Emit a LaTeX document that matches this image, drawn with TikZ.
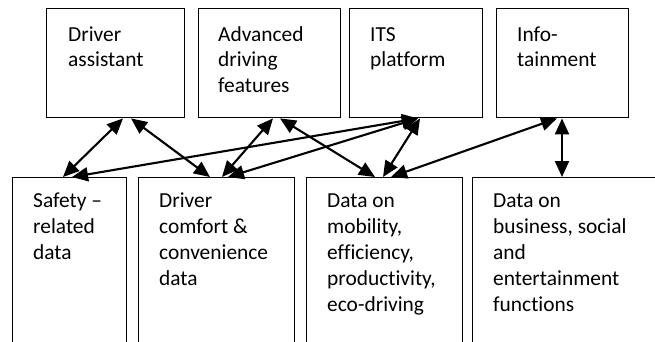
\documentclass[tikz,border=0pt]{standalone}
\usepackage{fontspec}
\setmainfont{Carlito}[Ligatures={NoCommon}]
\usetikzlibrary{arrows.meta}
\tikzset{
  box/.style={draw=black, line width=1.4pt, rectangle, inner sep=0pt, anchor=north west},
  topbox/.style={box, minimum width=#1, minimum height=109pt},
  botbox/.style={box, minimum width=#1, minimum height=200pt},
  toptxt/.style={inner sep=0pt, anchor=base west, font=\fontsize{21.4}{25.5}\selectfont},
  bottxt/.style={inner sep=0pt, anchor=base west, font=\fontsize{21.4}{26.2}\selectfont},
  conn/.style={draw=black, line width=2.1pt, {Triangle[length=16pt,width=14pt]}-{Triangle[length=16pt,width=14pt]}}
}
\newcommand{\lines}[1]{\parbox[t]{200pt}{#1}}
\begin{document}
\begin{tikzpicture}[x=1pt,y=-1pt]
\clip (0,0) rectangle (655,341);
\fill[white] (0,0) rectangle (655,341);
% top boxes
\node[topbox=138pt] (da) at (46,8) {};
\node[topbox=142pt] (adf) at (198,8) {};
\node[topbox=133pt] (its) at (349,8) {};
\node[topbox=132pt] (info) at (496,8) {};
% bottom boxes
\node[botbox=114pt] (saf) at (12,177) {};
\node[botbox=156pt] (com) at (138,177) {};
\node[botbox=156pt] (mob) at (306,177) {};
\node[botbox=200pt] (bus) at (472,177) {};
% texts
\node[toptxt] (daT) at ([shift={(22,33)}]da.north west) {\lines{Driver\\assistant}};
\node[toptxt] (adfT) at ([shift={(20,33)}]adf.north west) {\lines{Advanced\\driving\\features}};
\node[toptxt] (itsT) at ([shift={(21,33)}]its.north west) {\lines{ITS\\platform}};
\node[toptxt] (infoT) at ([shift={(21,33)}]info.north west) {\lines{Info-\\tainment}};
\node[bottxt] (safT) at ([shift={(21,30)}]saf.north west) {\lines{Safety –\\related\\data}};
\node[bottxt] (comT) at ([shift={(21,30)}]com.north west) {\lines{Driver\\comfort \&\\convenience\\data}};
\node[bottxt] (mobT) at ([shift={(21,30)}]mob.north west) {\lines{Data on\\mobility,\\efficiency,\\productivity,\\eco-driving}};
\node[bottxt] (busT) at ([shift={(21,30)}]bus.north west) {\lines{Data on\\business, social\\and\\entertainment\\functions}};
% connectors
\draw[conn] ([xshift=77pt]da.south west) -- ([xshift=51pt]saf.north west);
\draw[conn] ([xshift=85pt]da.south west) -- ([xshift=72pt]com.north west);
\draw[conn] ([xshift=75pt]adf.south west) -- ([xshift=84pt]com.north west);
\draw[conn] ([xshift=69pt]its.south west) -- ([xshift=60pt]saf.north west);
\draw[conn] ([xshift=69pt]its.south west) -- ([xshift=90pt]com.north west);
\draw[conn] ([xshift=82pt]adf.south west) -- ([xshift=69pt]mob.north west);
\draw[conn] ([xshift=71pt]its.south west) -- ([xshift=77pt]mob.north west);
\draw[conn] ([xshift=61pt]info.south west) -- ([xshift=85pt]mob.north west);
\draw[conn] ([xshift=66pt]info.south west) -- ([xshift=90pt]bus.north west);
\end{tikzpicture}
\end{document}
